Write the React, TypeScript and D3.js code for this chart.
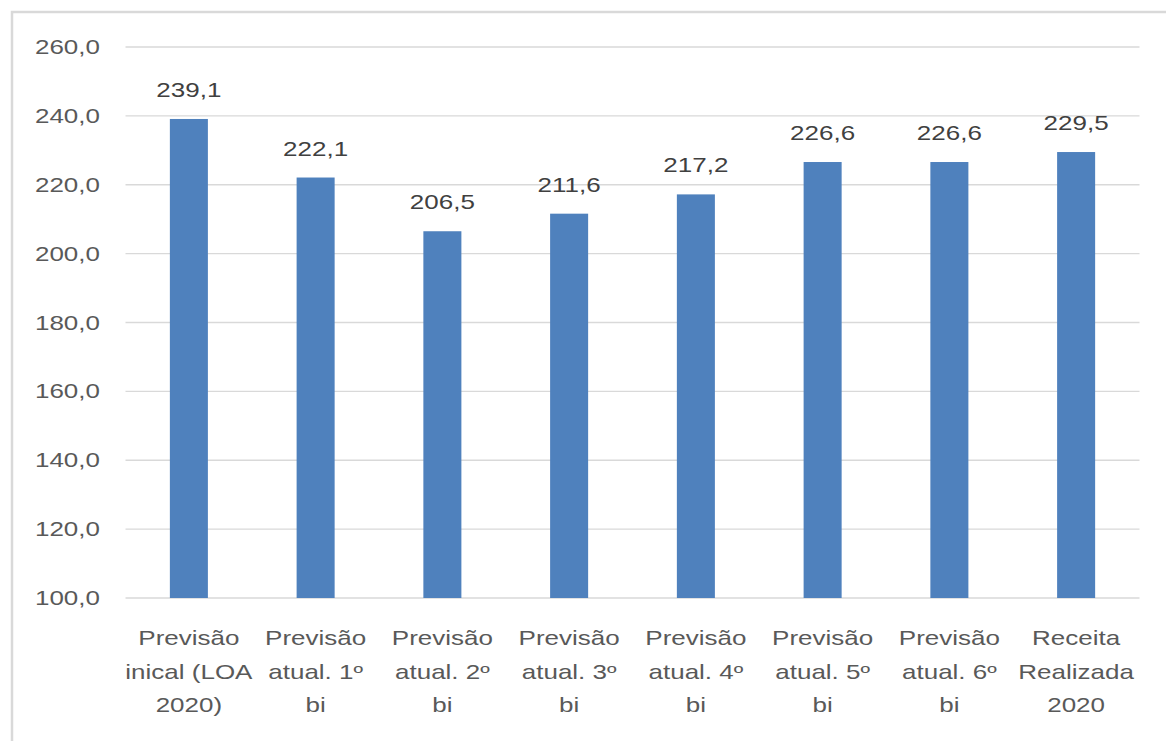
import React from "react";
import * as d3 from "d3";

const categories: string[][] = [
  ["Previsão", "inical (LOA", "2020)"],
  ["Previsão", "atual. 1º", "bi"],
  ["Previsão", "atual. 2º", "bi"],
  ["Previsão", "atual. 3º", "bi"],
  ["Previsão", "atual. 4º", "bi"],
  ["Previsão", "atual. 5º", "bi"],
  ["Previsão", "atual. 6º", "bi"],
  ["Receita", "Realizada", "2020"],
];
const values: number[] = [239.1, 222.1, 206.5, 211.6, 217.2, 226.6, 226.6, 229.5];
const yTicks: number[] = [100, 120, 140, 160, 180, 200, 220, 240, 260];

const W = 1166;
const H = 741;
const left = 125.5;
const right = 1139.5;
const top = 47;
const bottom = 598;
const SX = 1.3;
const textColor = "#595959";
const font = "'Liberation Sans', Arial, sans-serif";

const fmt = (v: number) => v.toFixed(1).replace(".", ",");

export default function App() {
  const x = d3
    .scaleBand<number>()
    .domain(d3.range(values.length))
    .range([left, right])
    .paddingInner(0.7)
    .paddingOuter(0.35);
  const y = d3.scaleLinear().domain([100, 260]).range([bottom, top]);

  return (
    <svg
      width={W}
      height={H}
      style={{ position: "absolute", left: 0, top: 0, background: "#fff" }}
    >
      <rect x={0} y={0} width={W} height={H} fill="#fff" />
      <rect x={12} y={12} width={W + 20} height={H + 20} fill="none" stroke="#d9d9d9" strokeWidth={2.5} />
      {yTicks.map((t) => (
        <g key={t}>
          <line x1={left} x2={right} y1={y(t)} y2={y(t)} stroke="#d9d9d9" strokeWidth={1.3} />
          <text
            transform={`translate(100,${y(t) + 7}) scale(${SX},1)`}
            textAnchor="end"
            fontFamily={font}
            fontSize={20}
            fill={textColor}
          >
            {fmt(t)}
          </text>
        </g>
      ))}
      {values.map((v, i) => {
        const cx = (x(i) as number) + x.bandwidth() / 2;
        return (
          <g key={i}>
            <rect
              x={x(i)}
              y={y(v)}
              width={x.bandwidth()}
              height={y(100) - y(v)}
              fill="#4f81bd"
            />
            <text
              transform={`translate(${cx},${y(v) - 22}) scale(${SX},1)`}
              textAnchor="middle"
              fontFamily={font}
              fontSize={20}
              fill="#404040"
            >
              {fmt(v)}
            </text>
            {categories[i].map((line, j) => (
              <text
                key={j}
                transform={`translate(${cx},${645 + j * 33.5}) scale(${SX},1)`}
                textAnchor="middle"
                fontFamily={font}
                fontSize={20}
                fill={textColor}
              >
                {line}
              </text>
            ))}
          </g>
        );
      })}
    </svg>
  );
}
